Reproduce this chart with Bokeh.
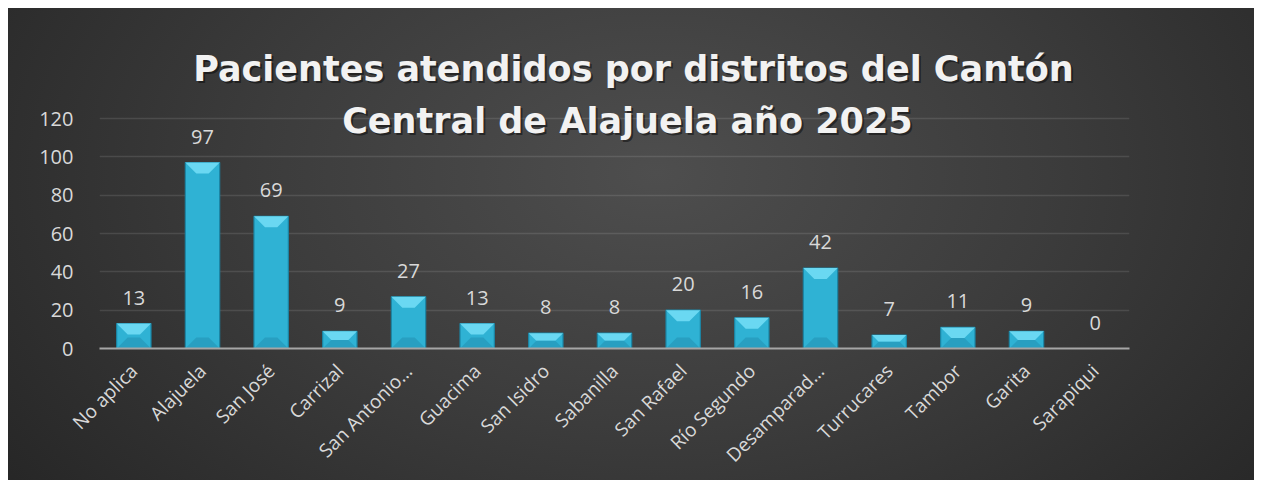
import math
from bokeh.plotting import figure
from bokeh.models import ColumnDataSource, Range1d, FactorRange, FixedTicker, LabelSet, Label
from bokeh.core.properties import value
from bokeh.embed import file_html
from bokeh.resources import INLINE

districts = ["No aplica", "Alajuela", "San José", "Carrizal", "San Antonio…", "Guacima",
             "San Isidro", "Sabanilla", "San Rafael", "Río Segundo", "Desamparad…",
             "Turrucares", "Tambor", "Garita", "Sarapiqui"]
patients = [13, 97, 69, 9, 27, 13, 8, 8, 20, 16, 42, 7, 11, 9, 0]
y_ticks = [0, 20, 40, 60, 80, 100, 120]
title_lines = ["Pacientes atendidos por distritos del Cantón",
               "Central de Alajuela  año 2025"]

W, H = 1246, 472
LEFT, RIGHT, TOP, BOTTOM = 91, 125, 8, 132
GRID_TOP = 110          # pixel position of the 120 gridline inside the figure
YMAX = 120
ppu_y = (H - GRID_TOP - BOTTOM) / YMAX
ppu_x = (W - LEFT - RIGHT) / len(districts)
y_end = YMAX + (GRID_TOP - TOP) / ppu_y

p = figure(x_range=FactorRange(factors=districts), y_range=Range1d(0, y_end),
           width=W, height=H, output_backend="svg", toolbar_location=None,
           min_border_left=LEFT, min_border_right=RIGHT,
           min_border_top=TOP, min_border_bottom=BOTTOM)
p.margin = (8, 0, 0, 8)
p.x_range.range_padding = 0
p.border_fill_color = None
p.background_fill_color = None
p.outline_line_color = None
p.styles = {"background": "radial-gradient(ellipse 70% 120% at 52% 35%, #4e4e4e 0%, #3c3c3c 45%, #232323 100%)"}

# bars
src = ColumnDataSource(dict(x=districts, top=patients, lbl=[str(v) for v in patients]))
p.vbar(x="x", top="top", width=0.5, source=src, fill_color="#2fb2d4",
       line_color="#1b86a6", line_width=1.2)

# bevels (top light, bottom darker)
bev_px = 11
hw = 0.25
txs, tys, bxs, bys = [], [], [], []
for i, v in enumerate(patients):
    if v <= 0:
        continue
    c = i + 0.5
    hpx = v * ppu_y
    b = min(bev_px, hpx / 2)
    by = b / ppu_y
    bx = b / ppu_x
    txs.append([c - hw, c + hw, c + hw - bx, c - hw + bx])
    tys.append([v, v, v - by, v - by])
    bxs.append([c - hw, c + hw, c + hw - bx, c - hw + bx])
    bys.append([0, 0, by, by])
p.patches(txs, tys, fill_color="#6ad8f2", line_color=None)
p.patches(bxs, bys, fill_color="#2597b9", line_color=None, fill_alpha=0.7)

labels = LabelSet(x="x", y="top", text="lbl", source=src, y_offset=19,
                  text_align="center", text_baseline="alphabetic",
                  text_font=value("Open Sans"), text_font_size=value("20px"),
                  text_color=value("#d9d9d9"))
p.add_layout(labels)

# axes
p.xaxis.axis_line_color = "#a6a6a6"
p.xaxis.axis_line_width = 2
p.xaxis.major_tick_line_color = None
p.xaxis.minor_tick_line_color = None
p.xaxis.major_label_orientation = math.pi / 4
p.xaxis.major_label_standoff = 13
p.xaxis.major_label_text_font = "Open Sans"
p.xaxis.major_label_text_font_size = "19px"
p.xaxis.major_label_text_color = "#d9d9d9"

p.yaxis.ticker = FixedTicker(ticks=y_ticks)
p.yaxis.axis_line_color = None
p.yaxis.major_tick_line_color = None
p.yaxis.minor_tick_line_color = None
p.yaxis.major_label_standoff = 20
p.yaxis.major_label_text_font = "Open Sans"
p.yaxis.major_label_text_font_size = "20px"
p.yaxis.major_label_text_color = "#d9d9d9"

p.xgrid.grid_line_color = None
p.ygrid.ticker = FixedTicker(ticks=y_ticks)
p.ygrid.grid_line_color = "#ffffff"
p.ygrid.grid_line_alpha = 0.11
p.ygrid.grid_line_width = 1.5

# title (inside the extended frame)
tx = (633 - 8 - LEFT) / ppu_x
ty1 = YMAX + (GRID_TOP - (68 - 8)) / ppu_y
ty2 = YMAX + (GRID_TOP - (120 - 8)) / ppu_y
for t, ty in zip(title_lines, [ty1, ty2]):
    p.add_layout(Label(x=tx, y=ty, text=t, text_align="center", text_baseline="alphabetic",
                       text_font="DejaVu Sans", text_font_style="bold", text_font_size="35px",
                       text_color="#000000", text_alpha=0.45, x_offset=2, y_offset=-2))
    p.add_layout(Label(x=tx, y=ty, text=t, text_align="center", text_baseline="alphabetic",
                       text_font="DejaVu Sans", text_font_style="bold", text_font_size="35px",
                       text_color="#f2f2f2"))

open("out.html", "w").write(file_html(p, INLINE))
